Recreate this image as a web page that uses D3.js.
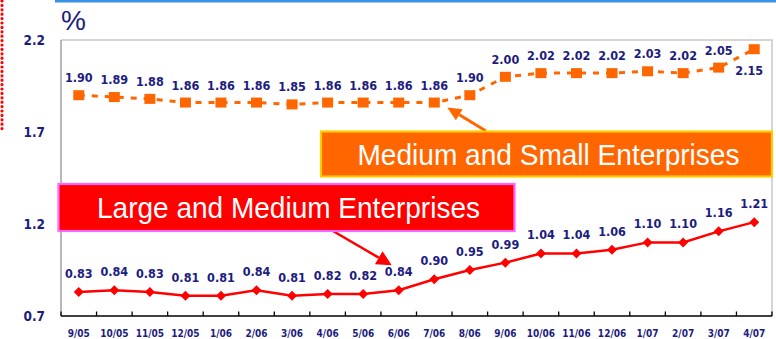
<!DOCTYPE html>
<html>
<head>
<meta charset="utf-8">
<script src="https://cdn.jsdelivr.net/npm/d3@7/dist/d3.min.js"></script>
<style>
  html, body { margin: 0; padding: 0; background: #fff; }
  svg { display: block; }
</style>
</head>
<body>
<div id="chart"></div>
<script>
// Monthly rates, %, Sep 2005 – Apr 2007
const months = ["9/05","10/05","11/05","12/05","1/06","2/06","3/06","4/06","5/06","6/06",
                "7/06","8/06","9/06","10/06","11/06","12/06","1/07","2/07","3/07","4/07"];
const smallMedium = [1.90,1.89,1.88,1.86,1.86,1.86,1.85,1.86,1.86,1.86,
                     1.86,1.90,2.00,2.02,2.02,2.02,2.03,2.02,2.05,2.15];
const largeMedium = [0.83,0.84,0.83,0.81,0.81,0.84,0.81,0.82,0.82,0.84,
                     0.90,0.95,0.99,1.04,1.04,1.06,1.10,1.10,1.16,1.21];
const yTicks = [0.7, 1.2, 1.7, 2.2];
const seriesNames = ["Medium and Small Enterprises", "Large and Medium Enterprises"];

const W = 776, H = 339;
const plot = { left: 61, right: 772, top: 40, bottom: 316 };
const navy = "#1c1c80";
const orange = "#ff6600";
const red = "#ff0000";
const labelFont = "'DejaVu Sans Condensed', 'DejaVu Sans', sans-serif";
const boxFont = "'Liberation Sans', Arial, sans-serif";

const svg = d3.select("#chart").append("svg").attr("width", W).attr("height", H);

const x = d3.scaleBand().domain(months).range([plot.left, plot.right]);
const y = d3.scaleLinear().domain([0.7, 2.2]).range([plot.bottom, plot.top]);
const cx = m => x(m) + x.bandwidth() / 2;

// page decorations
svg.append("rect").attr("x", 55).attr("y", 0).attr("width", W - 55).attr("height", 2.5).attr("fill", "#3a92e6");
svg.append("line").attr("x1", 2).attr("x2", 2).attr("y1", 1).attr("y2", 132)
  .attr("stroke", red).attr("stroke-width", 3.2).attr("stroke-linecap", "round").attr("stroke-dasharray", "0,4.4");

// plot frame
svg.append("path")
  .attr("d", `M${plot.left},${plot.top}H${plot.right}V${plot.bottom}`)
  .attr("fill", "none").attr("stroke", "#c8c8c8").attr("stroke-width", 1.5);
svg.append("line").attr("x1", plot.left).attr("x2", plot.left).attr("y1", plot.top).attr("y2", plot.bottom)
  .attr("stroke", "#a0a0a0").attr("stroke-width", 1.5);

// unit label
svg.append("text").attr("x", 61).attr("y", 30).text("%")
  .attr("font-family", "'Liberation Sans', Arial, sans-serif").attr("font-size", 28).attr("fill", navy);

// y axis labels
const yAxis = svg.append("g").attr("transform", `translate(${plot.left},0)`)
  .call(d3.axisLeft(y).tickValues(yTicks).tickFormat(d3.format(".1f")).tickSize(0).tickPadding(16));
yAxis.select(".domain").remove();
yAxis.selectAll("text").attr("font-family", labelFont).attr("font-weight", "bold")
  .attr("font-size", 13.5).attr("fill", navy);

// x axis: labels at band centers, inward ticks on band boundaries
const xAxis = svg.append("g").attr("transform", `translate(0,${plot.bottom})`)
  .call(d3.axisBottom(x).tickSize(0).tickPadding(14));
xAxis.select(".domain").remove();
xAxis.selectAll("text").attr("font-family", labelFont).attr("font-weight", "bold")
  .attr("font-size", 10).attr("fill", navy);
svg.append("line").attr("x1", plot.left).attr("x2", plot.right).attr("y1", plot.bottom).attr("y2", plot.bottom)
  .attr("stroke", "#000").attr("stroke-width", 1.6);
svg.append("g").selectAll("line").data(months.map(m => x(m)).concat([plot.right]))
  .join("line").attr("x1", d => d).attr("x2", d => d)
  .attr("y1", plot.bottom).attr("y2", plot.bottom - 4.5)
  .attr("stroke", "#000").attr("stroke-width", 1.3);

const line = d3.line().x((d, i) => cx(months[i])).y(d => y(d));

// Medium and small enterprises: dashed orange with squares
svg.append("path").datum(smallMedium).attr("d", line)
  .attr("fill", "none").attr("stroke", orange).attr("stroke-width", 3).attr("stroke-dasharray", "6,7");
svg.append("g").selectAll("rect").data(smallMedium).join("rect")
  .attr("x", (d, i) => cx(months[i]) - 5.5).attr("y", d => y(d) - 5)
  .attr("width", 11).attr("height", 10).attr("fill", orange);

// Large and medium enterprises: solid red with diamonds
svg.append("path").datum(largeMedium).attr("d", line)
  .attr("fill", "none").attr("stroke", red).attr("stroke-width", 2.5);
svg.append("g").selectAll("path").data(largeMedium).join("path")
  .attr("d", (d, i) => {
    const px = cx(months[i]), py = y(d);
    return `M${px},${py - 5}L${px + 5},${py}L${px},${py + 5}L${px - 5},${py}Z`;
  })
  .attr("fill", red);

// value labels
function valueLabels(values, offset) {
  svg.append("g").selectAll("text").data(values).join("text")
    .attr("x", (d, i) => cx(months[i]) + offset(i).dx)
    .attr("y", (d, i) => y(d) + offset(i).dy)
    .attr("text-anchor", "middle")
    .attr("font-family", labelFont).attr("font-weight", "bold")
    .attr("font-size", 12.5).attr("fill", navy)
    .text(d => d3.format(".2f")(d));
}
valueLabels(smallMedium, i => i === smallMedium.length - 1 ? { dx: -5, dy: 26 } : { dx: 0, dy: -13 });
valueLabels(largeMedium, () => ({ dx: 0, dy: -14 }));

// callout boxes with arrows
function arrow(x1, y1, x2, y2, color, len, half, width) {
  const a = Math.atan2(y2 - y1, x2 - x1);
  const bx = x2 - len * Math.cos(a), by = y2 - len * Math.sin(a);
  svg.append("line").attr("x1", x1).attr("y1", y1).attr("x2", bx).attr("y2", by)
    .attr("stroke", color).attr("stroke-width", width);
  const nx = -Math.sin(a) * half, ny = Math.cos(a) * half;
  svg.append("path")
    .attr("d", `M${x2},${y2}L${bx + nx},${by + ny}L${bx - nx},${by - ny}Z`)
    .attr("fill", color);
}
function callout(bx, by, bw, bh, fill, border, text, textWidth, baseline) {
  svg.append("rect").attr("x", bx).attr("y", by).attr("width", bw).attr("height", bh)
    .attr("fill", fill).attr("stroke", border).attr("stroke-width", 2.2);
  svg.append("text").attr("x", bx + bw / 2 + 2).attr("y", by + baseline)
    .attr("text-anchor", "middle").attr("font-family", boxFont)
    .attr("font-size", 30).attr("fill", "#fff")
    .attr("textLength", textWidth).attr("lengthAdjust", "spacingAndGlyphs")
    .text(text);
}

arrow(486, 131, cx("7/06") + 13, y(smallMedium[10]) + 5, orange, 14, 6.5, 3);
arrow(333, 231, cx("6/06") - 7, y(largeMedium[9]) - 25, red, 15, 7.5, 2.5);

callout(321, 131.5, 451, 45, orange, "#ffcc00", seriesNames[0], 382, 33.5);
callout(58.5, 184, 456, 47, red, "#ff66ff", seriesNames[1], 383, 34);
</script>
</body>
</html>
